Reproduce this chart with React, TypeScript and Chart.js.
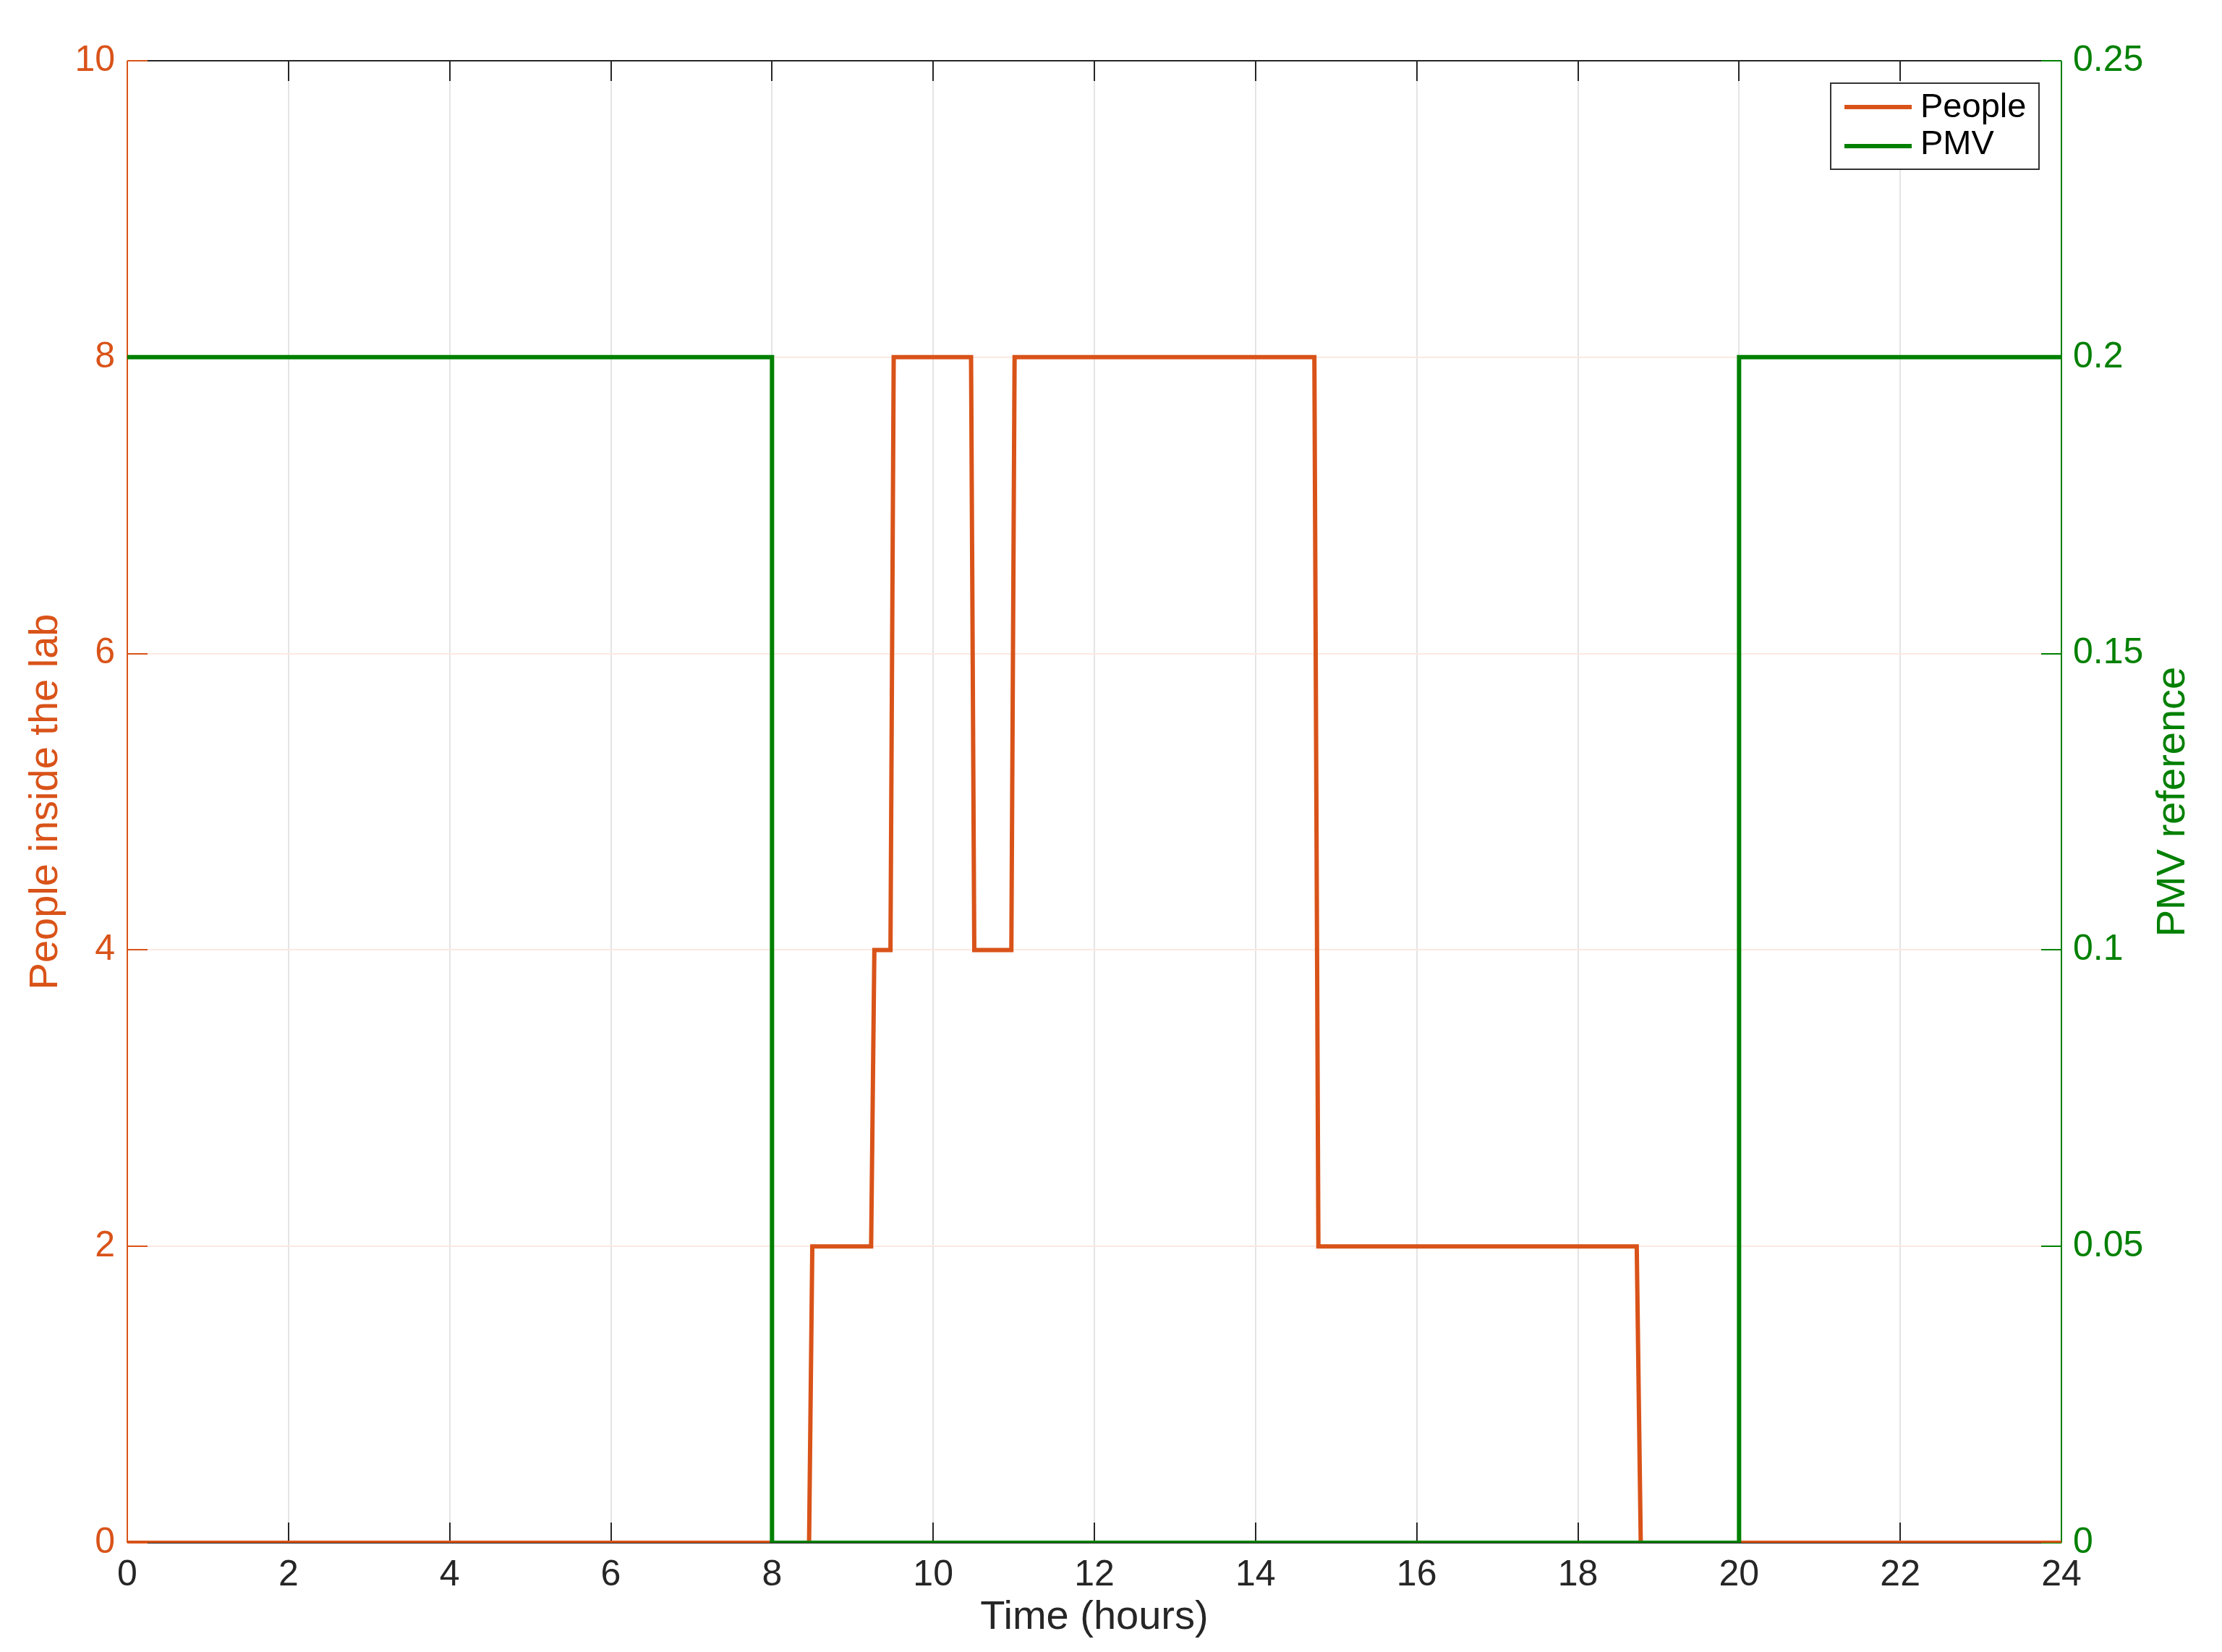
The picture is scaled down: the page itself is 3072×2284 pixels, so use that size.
import React, { useEffect, useRef } from 'react';
import { Chart, registerables } from 'chart.js';

Chart.register(...registerables);

// ---- data ----
const PEOPLE_TIME = [0, 8.46, 8.5, 9.23, 9.27, 9.47, 9.51, 10.47, 10.51, 10.97, 11.01, 14.73, 14.78, 18.73, 18.78, 24];
const PEOPLE_COUNT = [0, 0, 2, 2, 4, 4, 8, 8, 4, 4, 8, 8, 2, 2, 0, 0];
const PMV_TIME = [0, 8, 8, 20, 20, 24];
const PMV_VALUE = [0.2, 0.2, 0, 0, 0.2, 0.2];
const PMV_TICK_LABELS = ['0', '0.05', '0.1', '0.15', '0.2', '0.25'];
const SERIES_LABELS = ['People', 'PMV'];
const X_TITLE = 'Time (hours)';
const Y_LEFT_TITLE = 'People inside the lab';
const Y_RIGHT_TITLE = 'PMV reference';

// ---- styles ----
const ORANGE = '#D95319';
const GREEN = '#008000';
const DARK = '#262626';
const FONT = '"Liberation Sans", Arial, Helvetica, sans-serif';
const W = 3072;
const H = 2284;
const TICK_LEN = 28;
const LINE_W = 6;

function seg(ctx: CanvasRenderingContext2D, x1: number, y1: number, x2: number, y2: number) {
  ctx.beginPath();
  ctx.moveTo(x1, y1);
  ctx.lineTo(x2, y2);
  ctx.stroke();
}

const decorPlugin = {
  id: 'decor',
  beforeDatasetsDraw(chart: any) {
    const { ctx, chartArea, scales } = chart;
    const { left, right, top, bottom } = chartArea;
    ctx.save();
    ctx.lineWidth = 2;
    ctx.lineCap = 'butt';
    ctx.strokeStyle = DARK;
    seg(ctx, left, top, right, top);
    seg(ctx, left, bottom, right, bottom);
    scales.x.ticks.forEach((t: any) => {
      const x = Math.round(scales.x.getPixelForValue(t.value));
      seg(ctx, x, bottom, x, bottom - TICK_LEN);
      seg(ctx, x, top, x, top + TICK_LEN);
    });
    ctx.strokeStyle = ORANGE;
    seg(ctx, left, top, left, bottom);
    scales.y.ticks.forEach((t: any) => {
      const y = Math.round(scales.y.getPixelForValue(t.value));
      seg(ctx, left, y, left + TICK_LEN, y);
    });
    ctx.strokeStyle = GREEN;
    seg(ctx, right, top, right, bottom);
    scales.y1.ticks.forEach((t: any) => {
      const y = Math.round(scales.y1.getPixelForValue(t.value));
      seg(ctx, right, y, right - TICK_LEN, y);
    });
    ctx.restore();
  },
  afterDraw(chart: any) {
    const { ctx, chartArea } = chart;
    const { left, right, top, bottom } = chartArea;
    const cy = (top + bottom) / 2;
    ctx.save();
    ctx.font = `56px ${FONT}`;
    ctx.textAlign = 'center';
    ctx.textBaseline = 'alphabetic';
    ctx.fillStyle = DARK;
    ctx.fillText(X_TITLE, (left + right) / 2, 2252);

    ctx.save();
    ctx.translate(79, cy);
    ctx.rotate(-Math.PI / 2);
    ctx.fillStyle = ORANGE;
    ctx.fillText(Y_LEFT_TITLE, 0, 0);
    ctx.restore();

    ctx.save();
    ctx.translate(3020, cy);
    ctx.rotate(-Math.PI / 2);
    ctx.fillStyle = GREEN;
    ctx.fillText(Y_RIGHT_TITLE, 0, 0);
    ctx.restore();

    // legend
    const bx = 2531, by = 115, bw = 288, bh = 119;
    ctx.fillStyle = '#ffffff';
    ctx.fillRect(bx, by, bw, bh);
    ctx.lineWidth = 2;
    ctx.strokeStyle = '#333333';
    ctx.strokeRect(bx, by, bw, bh);
    const rows = [
      { label: chart.data.datasets[1].label, color: ORANGE, ly: 148, ty: 162 },
      { label: chart.data.datasets[0].label, color: GREEN, ly: 202, ty: 213 },
    ];
    ctx.font = `47px ${FONT}`;
    ctx.textAlign = 'left';
    rows.forEach((r) => {
      ctx.strokeStyle = r.color;
      ctx.lineWidth = LINE_W;
      seg(ctx, 2550, r.ly, 2643, r.ly);
      ctx.fillStyle = '#000000';
      ctx.fillText(r.label, 2655, r.ty);
    });
    ctx.restore();
  },
};

export default function App() {
  const ref = useRef<HTMLCanvasElement | null>(null);

  useEffect(() => {
    if (!ref.current) return;
    const tickFont = { family: FONT, size: 50 };
    const chart = new Chart(ref.current, {
      type: 'line',
      data: {
        datasets: [
          {
            label: SERIES_LABELS[1],
            data: PMV_TIME.map((t, i) => ({ x: t, y: PMV_VALUE[i] })),
            borderColor: GREEN,
            borderWidth: LINE_W,
            pointRadius: 0,
            tension: 0,
            yAxisID: 'y1',
            order: 1,
          },
          {
            label: SERIES_LABELS[0],
            data: PEOPLE_TIME.map((t, i) => ({ x: t, y: PEOPLE_COUNT[i] })),
            borderColor: ORANGE,
            borderWidth: LINE_W,
            pointRadius: 0,
            tension: 0,
            yAxisID: 'y',
            order: 2,
          },
        ],
      },
      options: {
        animation: false,
        responsive: false,
        devicePixelRatio: 1,
        layout: { padding: { top: 84, left: 0, right: 0, bottom: 0 } },
        plugins: { legend: { display: false }, tooltip: { enabled: false } },
        scales: {
          x: {
            type: 'linear',
            min: 0,
            max: 24,
            ticks: { stepSize: 2, color: DARK, font: tickFont, padding: 15, maxRotation: 0 },
            grid: { color: '#e4e4e4', lineWidth: 2, drawTicks: false },
            border: { display: false },
            afterFit: (s: any) => { s.height = H - 2133; },
          },
          y: {
            type: 'linear',
            position: 'left',
            min: 0,
            max: 10,
            ticks: { stepSize: 2, color: ORANGE, font: tickFont, padding: 17 },
            grid: { color: '#fbe9e1', lineWidth: 2, drawTicks: false },
            border: { display: false },
            afterFit: (s: any) => { s.width = 176; },
          },
          y1: {
            type: 'linear',
            position: 'right',
            min: 0,
            max: 0.25,
            ticks: {
              stepSize: 0.05,
              color: GREEN,
              font: tickFont,
              padding: 16,
              callback: (_v: any, i: number) => PMV_TICK_LABELS[i],
            },
            grid: { display: false, drawTicks: false },
            border: { display: false },
            afterFit: (s: any) => { s.width = W - 2850; },
          },
        },
      },
      plugins: [decorPlugin],
    } as any);
    return () => chart.destroy();
  }, []);

  return (
    <div style={{ position: 'fixed', left: 0, top: 0, width: W, height: H, background: '#ffffff' }}>
      <canvas ref={ref} width={W} height={H} style={{ display: 'block', width: W, height: H }} />
    </div>
  );
}
